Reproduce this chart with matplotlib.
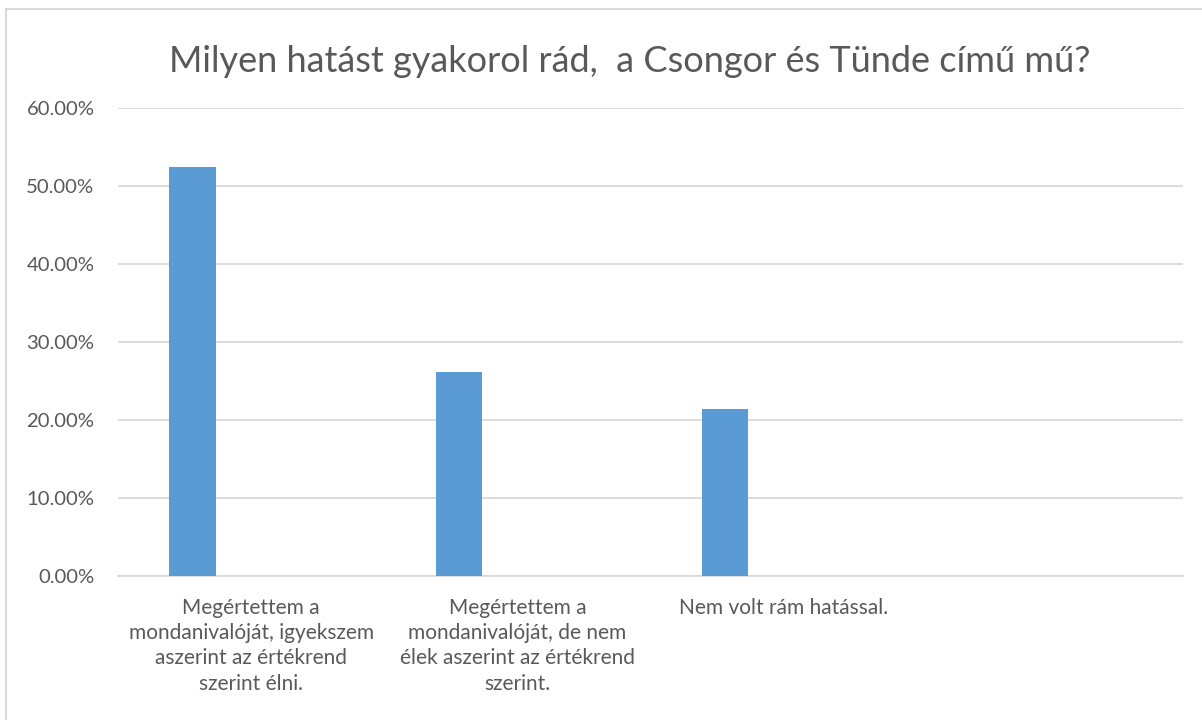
import matplotlib.pyplot as plt
import matplotlib.patches as patches
from matplotlib.ticker import PercentFormatter

categories = [
    'Megértettem a\nmondanivalóját, igyekszem\naszerint az értékrend\nszerint élni.',
    'Megértettem a\nmondanivalóját, de nem\nélek aszerint az értékrend\nszerint.',
    'Nem volt rám hatással.',
    '',
]
values = [52.38, 26.19, 21.43]
yticks = [0, 10, 20, 30, 40, 50, 60]
title = 'Milyen hatást gyakorol rád,  a Csongor és Tünde című mű?'

plt.rcParams['font.family'] = ['Lato', 'DejaVu Sans']
grey = '#595959'

fig = plt.figure(figsize=(12.02, 7.2), dpi=100)
ax = fig.add_axes([118 / 1202, 1 - 576 / 720, 1065 / 1202, 468 / 720])

# chart area frame (extends past right/bottom of the image)
fig.patches.append(patches.Rectangle((6 / 1202, -0.1), 1.2, 1 - 9 / 720 + 0.1,
                                     transform=fig.transFigure, fill=False,
                                     edgecolor='#d9d9d9', linewidth=1.5))

x = list(range(len(values)))
ax.bar([i - 0.22 for i in x], values, width=0.175, color='#5b9bd5', zorder=3)

ax.set_xlim(-0.5, len(categories) - 0.5)
ax.set_ylim(0, 60)
ax.set_yticks(yticks)
ax.yaxis.set_major_formatter(PercentFormatter(decimals=2))
ax.set_xticks(range(len(categories)))
ax.set_xticklabels(categories, fontsize=15, color=grey, linespacing=1.32,
                   va='top', ha='center')
ax.tick_params(axis='y', length=0, pad=17, labelsize=14.6, labelcolor=grey)
ax.tick_params(axis='x', length=0, pad=16)

ax.grid(axis='y', color='#d9d9d9', linewidth=1.3, zorder=0)
for s in ['top', 'right', 'left']:
    ax.spines[s].set_visible(False)
ax.spines['bottom'].set_color('#d9d9d9')
ax.spines['bottom'].set_linewidth(1.3)

fig.text(630 / 1202, 1 - 61 / 720, title, ha='center', va='center',
         fontsize=26, color=grey)

fig.savefig('out.png', dpi=100, facecolor='white')
